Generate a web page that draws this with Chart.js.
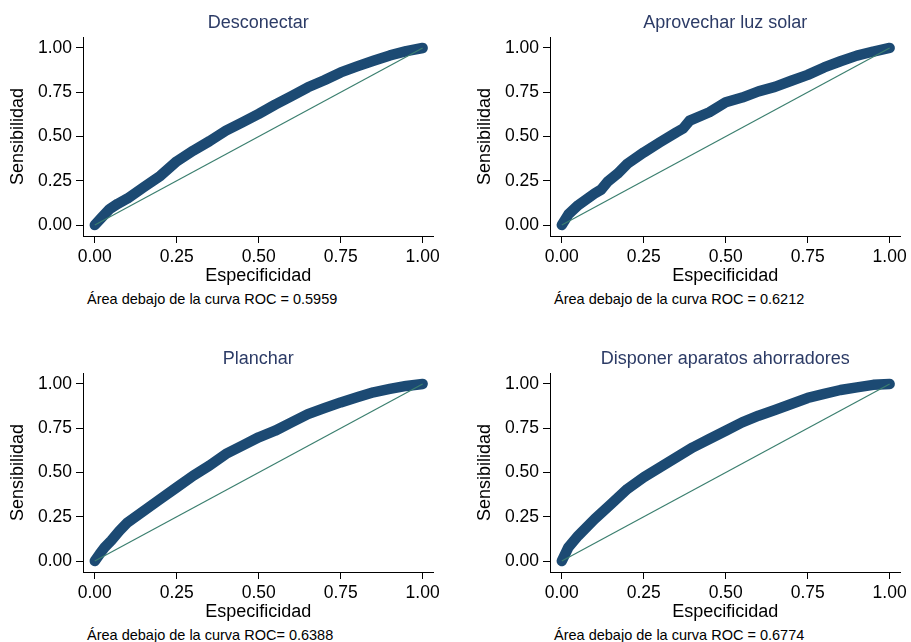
<!DOCTYPE html>
<html lang="es">
<head>
<meta charset="utf-8">
<script src="https://cdn.jsdelivr.net/npm/chart.js"></script>
<style>
  body { margin: 0; background: #fff; width: 911px; height: 642px; overflow: hidden; position: relative;
         font-family: "Liberation Sans", Arial, sans-serif; }
  .panel { position: absolute; width: 444px; height: 290px; }
  .nota { position: absolute; font-size: 14.5px; line-height: 14.5px; color: #000; white-space: nowrap; }
</style>
</head>
<body>
<div class="panel" style="left:0;top:0"><canvas id="g1" width="444" height="290"></canvas></div>
<div class="panel" style="left:467px;top:0"><canvas id="g2" width="444" height="290"></canvas></div>
<div class="panel" style="left:0;top:336px"><canvas id="g3" width="444" height="290"></canvas></div>
<div class="panel" style="left:467px;top:336px"><canvas id="g4" width="444" height="290"></canvas></div>

<div class="nota" style="left:87px;top:292px">Área debajo de la curva ROC = 0.5959</div>
<div class="nota" style="left:554px;top:292px">Área debajo de la curva ROC = 0.6212</div>
<div class="nota" style="left:87px;top:628px">Área debajo de la curva ROC= 0.6388</div>
<div class="nota" style="left:554px;top:628px">Área debajo de la curva ROC = 0.6774</div>

<script>
// marcas de los ejes y linea de referencia
const marcas = [0, 0.25, 0.5, 0.75, 1];
const diagonal = [0, 1];

// Desconectar
const especDesconectar = [0, 0.02, 0.045, 0.07, 0.1, 0.15, 0.2, 0.25, 0.3, 0.35, 0.4, 0.45, 0.5, 0.55, 0.6, 0.65, 0.7, 0.75, 0.8, 0.85, 0.9, 0.95, 1];
const sensDesconectar = [0, 0.04, 0.09, 0.12, 0.15, 0.215, 0.278, 0.36, 0.42, 0.474, 0.533, 0.58, 0.628, 0.68, 0.728, 0.778, 0.818, 0.862, 0.896, 0.928, 0.958, 0.982, 1];

// Aprovechar luz solar
const especSolar = [0, 0.02, 0.05, 0.1, 0.12, 0.14, 0.17, 0.2, 0.25, 0.3, 0.35, 0.37, 0.39, 0.45, 0.5, 0.55, 0.6, 0.65, 0.7, 0.75, 0.8, 0.85, 0.9, 0.95, 1];
const sensSolar = [0, 0.06, 0.112, 0.178, 0.2, 0.245, 0.29, 0.346, 0.41, 0.468, 0.524, 0.545, 0.59, 0.637, 0.693, 0.72, 0.755, 0.78, 0.815, 0.848, 0.89, 0.925, 0.957, 0.98, 1];

// Planchar
const especPlanchar = [0, 0.015, 0.03, 0.05, 0.075, 0.1, 0.15, 0.2, 0.25, 0.3, 0.35, 0.4, 0.45, 0.5, 0.55, 0.6, 0.65, 0.7, 0.75, 0.8, 0.85, 0.9, 0.95, 1];
const sensPlanchar = [0, 0.04, 0.077, 0.115, 0.17, 0.218, 0.284, 0.35, 0.416, 0.482, 0.539, 0.605, 0.652, 0.699, 0.736, 0.783, 0.83, 0.864, 0.896, 0.925, 0.953, 0.972, 0.989, 1];

// Disponer aparatos ahorradores
const especAhorradores = [0, 0.02, 0.05, 0.1, 0.15, 0.2, 0.25, 0.3, 0.35, 0.4, 0.45, 0.5, 0.55, 0.6, 0.65, 0.7, 0.75, 0.8, 0.85, 0.9, 0.95, 1];
const sensAhorradores = [0, 0.077, 0.143, 0.237, 0.322, 0.407, 0.473, 0.529, 0.586, 0.642, 0.689, 0.736, 0.783, 0.821, 0.853, 0.887, 0.921, 0.944, 0.966, 0.981, 0.995, 1];

Chart.defaults.font.family = '"Liberation Sans", Arial, sans-serif';

function crearGrafico(id, titulo, espec, sens) {
  const ctx = document.getElementById(id).getContext('2d');
  return new Chart(ctx, {
    type: 'line',
    data: {
      datasets: [
        {
          data: diagonal.map(v => ({ x: v, y: v })),
          borderColor: '#3b7f6f',
          borderWidth: 1.2,
          pointRadius: 0
        },
        {
          data: espec.map((v, i) => ({ x: v, y: sens[i] })),
          borderColor: '#1c4a73',
          borderWidth: 10.5,
          borderCapStyle: 'round',
          borderJoinStyle: 'round',
          pointRadius: 0,
          tension: 0
        }
      ]
    },
    options: {
      responsive: false,
      animation: false,
      events: [],
      layout: { padding: { left: 0, right: 8, top: 0, bottom: 0 } },
      plugins: {
        legend: { display: false },
        tooltip: { enabled: false },
        title: {
          display: true,
          text: titulo,
          fullSize: false,
          color: '#2c3b66',
          font: { size: 18, weight: 'normal' },
          padding: { top: 12, bottom: 3.4 }
        }
      },
      scales: {
        x: {
          type: 'linear',
          min: -0.036,
          max: 1.033,
          afterFit: s => { s.height = 54; },
          afterBuildTicks: s => { s.ticks = marcas.map(v => ({ value: v })); },
          border: { color: '#000', width: 1 },
          grid: { drawOnChartArea: false, tickLength: 7, color: '#000' },
          ticks: { color: '#000', font: { size: 17.5 }, padding: 4, maxRotation: 0, autoSkip: false,
                   callback: v => v.toFixed(2) },
          title: { display: true, text: 'Especificidad', color: '#000', font: { size: 18 },
                   padding: { top: 0, bottom: 3 } }
        },
        y: {
          type: 'linear',
          min: -0.062,
          max: 1.062,
          afterFit: s => { s.width = 83; },
          afterBuildTicks: s => { s.ticks = marcas.map(v => ({ value: v })); },
          border: { color: '#000', width: 1 },
          grid: { drawOnChartArea: false, tickLength: 7, color: '#000' },
          ticks: { color: '#000', font: { size: 17.5 }, padding: 4, autoSkip: false,
                   callback: v => v.toFixed(2) },
          title: { display: true, text: 'Sensibilidad', color: '#000', font: { size: 18 },
                   padding: { top: 7, bottom: 0 } }
        }
      }
    }
  });
}

crearGrafico('g1', 'Desconectar', especDesconectar, sensDesconectar);
crearGrafico('g2', 'Aprovechar luz solar', especSolar, sensSolar);
crearGrafico('g3', 'Planchar', especPlanchar, sensPlanchar);
crearGrafico('g4', 'Disponer aparatos ahorradores', especAhorradores, sensAhorradores);
</script>
</body>
</html>
